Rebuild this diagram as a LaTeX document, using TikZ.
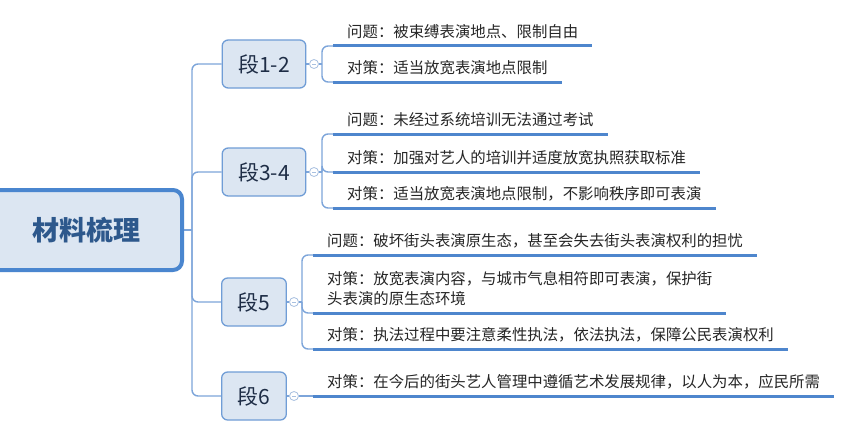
\documentclass[tikz,border=0pt]{standalone}
\usepackage{fontspec}
\usepackage{xcolor}
\usepackage{tikz}
\usetikzlibrary{backgrounds}
\newfontfamily\cjk{Noto Sans CJK SC}
\pgfdeclarelayer{edgelayer}
\pgfdeclarelayer{nodelayer}
\pgfsetlayers{background,edgelayer,nodelayer,main}
\definecolor{boxfill}{RGB}{220,230,242}
\definecolor{boxline}{RGB}{112,157,214}
\definecolor{rootline}{RGB}{74,134,207}
\definecolor{rootfont}{RGB}{45,88,140}
\definecolor{branchcol}{RGB}{125,165,218}
\definecolor{ulinecol}{RGB}{78,134,205}
\definecolor{foldcol}{RGB}{168,192,224}
\tikzstyle{none}=[inner sep=0mm]
\tikzstyle{root}=[draw=rootline,line width=4pt,fill=boxfill,rounded corners=9pt,minimum width=192pt,minimum height=80pt,font=\cjk\fontsize{27}{30}\selectfont\bfseries,text=rootfont]
\tikzstyle{sec}=[draw=boxline,line width=1.3pt,fill=boxfill,rounded corners=6pt,minimum height=48pt,inner xsep=16pt,font=\cjk\fontsize{21}{24}\selectfont,text={rgb,255:red,30;green,45;blue,70}]
\tikzstyle{fold}=[circle,draw=foldcol,fill=white,line width=0.8pt,minimum size=9pt,inner sep=0pt,path picture={\draw[foldcol,line width=0.7pt] ([xshift=-2pt]path picture bounding box.center) -- ([xshift=2pt]path picture bounding box.center);}]
\tikzstyle{leaf}=[anchor=south west,inner xsep=14pt,inner ysep=2.5pt,align=left,font=\cjk\fontsize{15.4}{20}\selectfont,text={rgb,255:red,38;green,38;blue,38},execute at end node=\strut]
\tikzstyle{branch}=[draw=branchcol,line width=1.4pt,rounded corners=6pt]
\tikzstyle{uline}=[draw=ulinecol,line width=3pt]

\begin{document}
\begin{tikzpicture}[x=1pt,y=-1pt]
	\useasboundingbox (0,0) rectangle (850,436);
	\begin{pgfonlayer}{background}
		\fill [white] (0,0) rectangle (850,436);
	\end{pgfonlayer}
	\begin{pgfonlayer}{nodelayer}
		\node [style=root] (0) at (86, 230) {材料梳理};
		\node [style=sec] (1) at (264, 64) {段1-2};
		\node [style=sec] (2) at (264, 172) {段3-4};
		\node [style=sec] (3) at (254, 302) {段5};
		\node [style=sec] (4) at (254, 396) {段6};
		\node [style=fold] (5) at (314, 64) {};
		\node [style=fold] (6) at (314, 172) {};
		\node [style=fold] (7) at (294, 302) {};
		\node [style=fold] (8) at (294, 396) {};
		\node [style=leaf] (9) at (333, 46) {问题：被束缚表演地点、限制自由};
		\node [style=leaf] (10) at (333, 82) {对策：适当放宽表演地点限制};
		\node [style=leaf] (11) at (333, 134) {问题：未经过系统培训无法通过考试};
		\node [style=leaf] (12) at (333, 172) {对策：加强对艺人的培训并适度放宽执照获取标准};
		\node [style=leaf] (13) at (333, 208) {对策：适当放宽表演地点限制，不影响秩序即可表演};
		\node [style=leaf] (14) at (313, 255) {问题：破坏街头表演原生态，甚至会失去街头表演权利的担忧};
		\node [style=leaf] (15) at (313, 313) {对策：放宽表演内容，与城市气息相符即可表演，保护街\\头表演的原生态环境};
		\node [style=leaf] (16) at (313, 349) {对策：执法过程中要注意柔性执法，依法执法，保障公民表演权利};
		\node [style=leaf] (17) at (313, 396) {对策：在今后的街头艺人管理中遵循艺术发展规律，以人为本，应民所需};
		\coordinate (18) at (192, 230);
		\coordinate (19) at (322, 64);
		\coordinate (20) at (322, 172);
		\coordinate (21) at (302, 302);
	\end{pgfonlayer}
	\begin{pgfonlayer}{edgelayer}
		% trunk
		\draw [style=branch] (0.east) -- (18);
		\draw [style=branch] (18) |- (1.west);
		\draw [style=branch] (18) |- (2.west);
		\draw [style=branch] (18) |- (3.west);
		\draw [style=branch] (18) |- (4.west);
		\draw [style=branch] (1.east) -- (5.west);
		\draw [style=branch] (2.east) -- (6.west);
		\draw [style=branch] (3.east) -- (7.west);
		\draw [style=branch] (4.east) -- (8.west);
		% forks
		\draw [style=branch] (5.east) -- (19);
		\draw [style=branch] (19) |- (9.south west);
		\draw [style=branch] (19) |- (10.south west);
		\draw [style=branch] (6.east) -- (20);
		\draw [style=branch] (20) |- (11.south west);
		\draw [style=branch] (20) |- (12.south west);
		\draw [style=branch] (20) |- (13.south west);
		\draw [style=branch] (7.east) -- (21);
		\draw [style=branch] (21) |- (14.south west);
		\draw [style=branch] (21) |- (15.south west);
		\draw [style=branch] (21) |- (16.south west);
		\draw [style=branch] (8.east) -- (17.south west);
		% underlines
		\foreach \n in {9,...,17}
			\draw [style=uline] (\n.south west) -- (\n.south east);
	\end{pgfonlayer}
\end{tikzpicture}
\end{document}
